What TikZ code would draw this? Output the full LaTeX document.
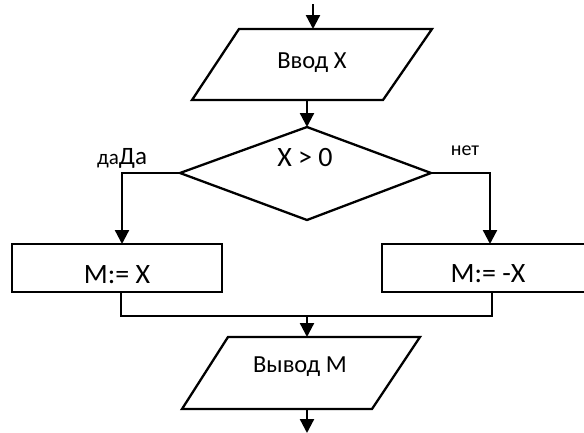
\documentclass[tikz,border=0pt]{standalone}
\usepackage{fontspec}
\setmainfont{Carlito}
\usetikzlibrary{arrows.meta}
\tikzset{
  x=1pt,y=-1pt,
  shapeline/.style={draw=black,line width=2.3pt,line join=miter},
  conn/.style={draw=black,line width=2.3pt},
  arr/.style={conn,-{Triangle[length=14pt,width=14pt]}},
  txtbig/.style={anchor=base,inner sep=0pt,font=\fontsize{28}{28}\selectfont},
  txtmid/.style={anchor=base,inner sep=0pt,font=\fontsize{24.5}{24.5}\selectfont},
  lbl/.style={anchor=base,inner sep=0pt,font=\fontsize{20}{20}\selectfont},
}
\begin{document}
\begin{tikzpicture}
\useasboundingbox (0,0) rectangle (584,432);
\clip (0,0) rectangle (584,432);
\fill[white] (0,0) rectangle (584,432);

% named points
\coordinate (start) at (313,4);
\coordinate (in1top) at (313,29);
\coordinate (in1bot) at (307,100);
\coordinate (dtop) at (307,127);
\coordinate (dleft) at (180,173);
\coordinate (dright) at (431,173);
\coordinate (dbot) at (307,220);
\coordinate (lcorner) at (122,173);
\coordinate (ltop) at (122,244);
\coordinate (rcorner) at (490,173);
\coordinate (rtop) at (490,244);
\coordinate (lbot) at (121,292);
\coordinate (lmerge) at (121,316);
\coordinate (rbot) at (492,292);
\coordinate (rmerge) at (492,316);
\coordinate (merge) at (307,316);
\coordinate (out1top) at (307,337);
\coordinate (out1bot) at (307,409);
\coordinate (finish) at (307,433);

% shapes
\draw[shapeline] (239,29) -- (432,29) -- (383,100) -- (192,100) -- cycle;
\draw[shapeline] (dtop) -- (dright) -- (dbot) -- (dleft) -- cycle;
\draw[shapeline] (12,244) rectangle (222,292);
\draw[shapeline] (382,244) rectangle (596,292);
\draw[shapeline] (228,337) -- (420,337) -- (372,409) -- (182,409) -- cycle;

% texts
\node[txtmid] (in1) at (312,68) {Ввод X};
\node[txtbig] (cond) at (305,166) {X > 0};
\node[txtbig] (asg1) at (117,283) {M:= X};
\node[txtbig] (asg2) at (488,282) {M:= -X};
\node[txtmid] (out1) at (300,372) {Вывод M};
\node[anchor=base west,inner sep=0pt] (yes) at (97,164)
  {{\fontsize{21}{21}\selectfont да}{\fontsize{25}{25}\selectfont Да}};
\node[lbl] (no) at (465,155) {нет};

% connectors
\draw[arr] (start) -- (in1top);
\draw[arr] (in1bot) -- (dtop);
\draw[arr] (dleft) -- (lcorner) -- (ltop);
\draw[arr] (dright) -- (rcorner) -- (rtop);
\draw[conn] (lbot) -- (lmerge) -- (rmerge) -- (rbot);
\draw[arr] (merge) -- (out1top);
\draw[arr] (out1bot) -- (finish);
\end{tikzpicture}
\end{document}
